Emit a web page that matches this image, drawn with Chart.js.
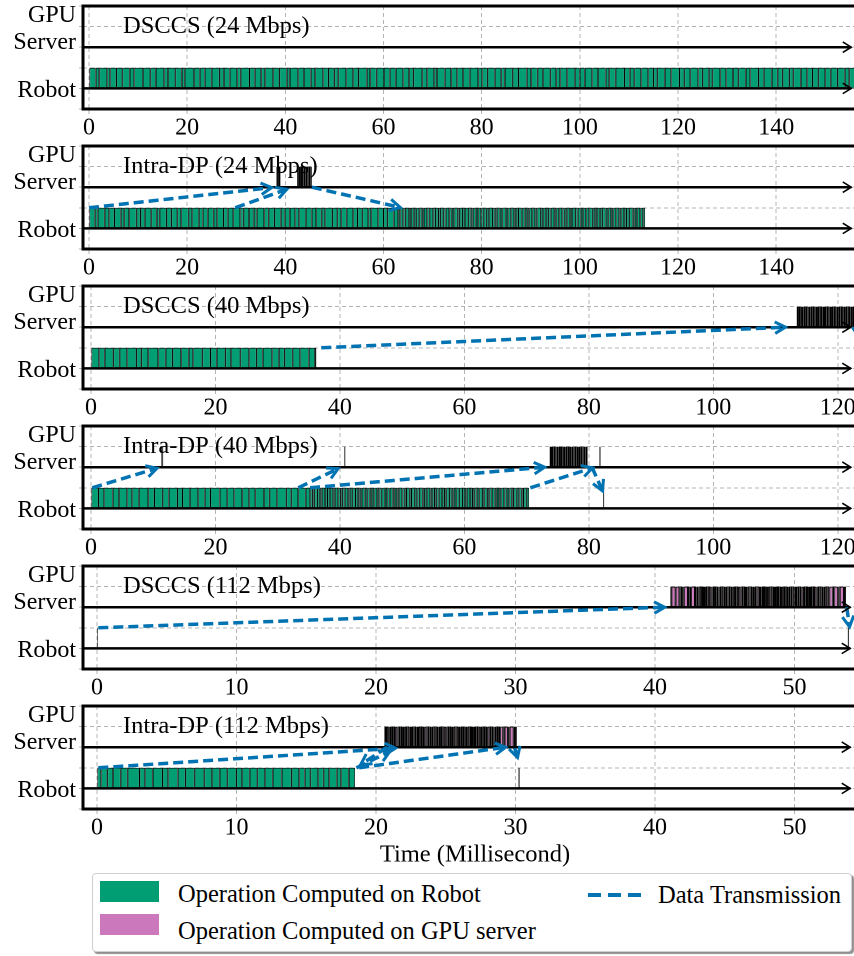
<!DOCTYPE html>
<html>
<head>
<meta charset="utf-8">
<script src="https://cdn.jsdelivr.net/npm/chart.js@4.4.1/dist/chart.umd.min.js"></script>
<style>
  html, body { margin: 0; padding: 0; background: #fff; }
  body { position: relative; width: 854px; height: 956px; overflow: hidden;
         font-family: 'Liberation Serif', 'Times New Roman', serif; }
  canvas { position: absolute; left: 0; }
  #legend { position: absolute; left: 92px; top: 873px; width: 758px; height: 77px;
            border: 1px solid #cfcfcf; border-radius: 4px; box-shadow: 2px 2px 1px #8f8f8f; background: #fff; }
  #legend span { position: absolute; font-size: 24.5px; line-height: 26px; white-space: nowrap; color: #000; }
  #legend .sw { position: absolute; left: 7px; width: 59px; height: 21px; }
  #legend .dash { position: absolute; width: 53px; height: 3.5px;
                  background: repeating-linear-gradient(to right, #0173b2 0 13px, transparent 13px 20px); }
</style>
</head>
<body>
<canvas id="p0" width="870" height="140" style="top:0px"></canvas>
<canvas id="p1" width="870" height="140" style="top:140px"></canvas>
<canvas id="p2" width="870" height="140" style="top:280px"></canvas>
<canvas id="p3" width="870" height="140" style="top:420px"></canvas>
<canvas id="p4" width="870" height="140" style="top:560px"></canvas>
<canvas id="p5" width="870" height="170" style="top:700px"></canvas>

<div id="legend">
  <i class="sw" style="top:7px;background:#029e73"></i>
  <span style="left:85px;top:7px">Operation Computed on Robot</span>
  <i class="sw" style="top:40px;background:#cc78bc"></i>
  <span style="left:85px;top:44px">Operation Computed on GPU server</span>
  <i class="dash" style="left:495px;top:19px"></i>
  <span style="left:565px;top:8px">Data Transmission</span>
</div>

<script>
const COL_ROBOT = '#029e73';
const COL_GPU   = '#cc78bc';
const COL_TX    = '#0173b2';
const GRID      = '#b4b4b4';
const CANVAS_W  = 870;

// operation runs: [start time (ms), [durations of consecutive operations (ms)]]
const dsccs24Robot = [
  [0, [1.4, 0.7, 1.6, 0.6, 1.3, 1.2, 1.5, 0.9, 1.8, 1.5,
       1.1, 1.7, 0.8, 1.5, 1.3, 0.6, 1.9, 1.2, 1.0, 1.4,
       1.6, 0.9, 1.2, 1.5, 0.7, 1.8, 1.1, 1.3, 0.8, 1.6,
       1.3, 1.5, 0.6, 1.7, 1.2, 1.4, 0.9, 1.6, 1.1, 1.2,
       0.8, 1.6, 1.4, 1.1, 1.7, 0.7, 1.3, 1.5, 1.2, 1.2,
       1.5, 1.2, 0.9, 1.8, 1.0, 1.4, 0.6, 1.6, 1.3, 1.2,
       1.2, 1.4, 1.7, 0.8, 1.1, 1.5, 1.3, 0.7, 1.6, 1.2,
       1.7, 0.9, 1.3, 1.1, 1.5, 1.2, 0.8, 1.4, 1.6, 1.0,
       1.0, 1.5, 1.2, 1.6, 0.7, 1.3, 1.8, 1.1, 0.9, 1.4,
       1.4, 1.1, 0.8, 1.5, 1.3, 1.7, 1.0, 1.2, 1.6, 0.9,
       1.3, 0.7, 1.6, 1.2, 1.4, 1.1, 1.5, 0.9, 1.7, 1.1,
       1.6, 1.2, 1.0, 1.4, 0.8, 1.5, 1.3, 1.1, 1.2, 1.4,
       1.1, 1.4, 1.5, 0.9, 1.2, 1.6, 1.0, 1.3, 0.7, 1.8]]
];

const intra24Robot = [
  [0, [1.2, 0.6, 1.4, 0.9, 1.1, 1.3, 0.7, 1.0, 1.5, 0.8,
       0.9, 1.3, 1.1, 0.6, 1.4, 1.0, 1.2, 0.8, 1.5, 0.7,
       1.4, 0.8, 1.0, 1.2, 0.7, 1.3, 0.9, 1.1, 1.4, 0.7,
       1.1, 1.0, 0.6, 1.5, 0.9, 1.2, 1.3, 0.8, 1.0, 1.1,
       0.8, 1.4, 1.2, 0.9, 1.1, 0.7, 1.5, 1.0, 0.8, 1.1,
       1.3, 0.9, 1.0, 1.2, 0.6, 1.4, 1.1, 0.8, 1.3, 0.9, 0.4,
       0.6, 0.5, 0.7, 0.4, 0.6, 0.5, 0.6, 0.5, 0.4, 0.7,
       0.5, 0.7, 0.5, 0.6, 0.4, 0.6, 0.5, 0.7, 0.5, 0.5,
       0.7, 0.4, 0.6, 0.5, 0.7, 0.5, 0.4, 0.6, 0.5, 0.6,
       0.5, 0.6, 0.5, 0.7, 0.5, 0.4, 0.6, 0.5, 0.7, 0.5,
       0.6, 0.6, 0.4, 0.5, 0.7, 0.6, 0.5, 0.4, 0.6, 0.6,
       0.4, 0.7, 0.5, 0.6, 0.5, 0.5, 0.7, 0.4, 0.6, 0.6,
       0.5, 0.5, 0.6, 0.4, 0.7, 0.5, 0.6, 0.5, 0.6, 0.6,
       0.7, 0.5, 0.4, 0.6, 0.5, 0.7, 0.5, 0.6, 0.4, 0.6,
       0.6, 0.4, 0.6, 0.5, 0.6, 0.7, 0.4, 0.5, 0.6, 0.6, 0.4]]
];
const intra24Gpu = [
  [38.2, [0.3, 0.2, 0.3]],
  [42.4, [0.3, 0.4, 0.3, 0.35, 0.3, 0.4, 0.3, 0.35, 0.3]]
];

const dsccs40Robot = [
  [0, [1.3, 0.9, 1.4, 1.0, 1.2, 1.5, 0.8, 1.1, 1.6, 1.2,
       1.1, 1.4, 1.2, 0.7, 1.5, 1.3, 1.0, 1.4, 0.9, 1.5,
       1.4, 1.2, 1.0, 1.5, 1.1, 0.9, 1.3, 1.2, 1.4, 1.0, 0.2]]
];
const dsccs40Gpu = [
  [113.4, [0.3, 0.25, 0.3, 0.28, 0.27, 0.3, 0.26, 0.29, 0.27, 0.28,
           0.28, 0.27, 0.29, 0.26, 0.3, 0.27, 0.28, 0.3, 0.25, 0.3,
           0.27, 0.3, 0.28, 0.25, 0.3, 0.29, 0.26, 0.28, 0.3, 0.27,
           0.3, 0.28, 0.26, 0.3, 0.27, 0.25, 0.3, 0.28, 0.29, 0.27, 0.3, 0.3]]
];

const intra40Robot = [
  [0, [1.2, 0.9, 1.4, 1.0, 1.3, 0.8, 1.1, 1.5, 1.0, 1.3,
       1.0, 1.4, 0.8, 1.2, 1.3, 1.1, 0.9, 1.5, 1.2, 1.1,
       1.3, 1.1, 1.0, 1.4, 0.9, 1.2, 1.5, 0.8, 1.1, 1.2, 0.7,
       0.4, 0.3, 0.5, 0.4, 0.3, 0.5, 0.4, 0.4, 0.5, 0.3,
       0.5, 0.4, 0.3, 0.4, 0.5, 0.3, 0.4, 0.5, 0.4, 0.3,
       0.3, 0.5, 0.4, 0.4, 0.3, 0.4, 0.5, 0.3, 0.4, 0.5,
       0.4, 0.4, 0.5, 0.3, 0.4, 0.3, 0.5, 0.4, 0.3, 0.5,
       0.3, 0.5, 0.4, 0.4, 0.5, 0.3, 0.4, 0.5, 0.3, 0.4,
       0.3, 0.4, 0.5, 0.4, 0.3, 0.5, 0.4, 0.3, 0.4, 0.5,
       0.5, 0.4, 0.3, 0.5, 0.4, 0.3, 0.4, 0.4, 0.5, 0.3,
       0.5, 0.3, 0.4, 0.5, 0.3, 0.4, 0.3, 0.5, 0.4, 0.4,
       0.4, 0.3, 0.5, 0.4, 0.4, 0.3, 0.5, 0.4]],
  [82.3, [0.17]]
];
const intra40Gpu = [
  [11.3, [0.15, 0.15]],
  [40.7, [0.17]],
  [73.7, [0.3, 0.28, 0.3, 0.27, 0.3, 0.29, 0.3, 0.26, 0.3, 0.3,
          0.28, 0.3, 0.3, 0.27, 0.3, 0.3, 0.29, 0.3, 0.26, 0.3, 0.3]],
  [81.7, [0.17]]
];

const dsccs112Robot = [
  [0, [0.08]],
  [53.82, [0.08]]
];
const dsccs112Gpu = [
  [41.1, [0.08, 0.3, 0.27, 0.1, 0.12, 0.1, 0.3, 0.12, 0.1, 0.28, 0.13, 0.1,
          0.12, 0.15, 0.11, 0.14, 0.13, 0.12, 0.16, 0.11, 0.13, 0.13,
          0.14, 0.11, 0.13, 0.15, 0.12, 0.13, 0.11, 0.14, 0.12, 0.15,
          0.13, 0.12, 0.16, 0.11, 0.14, 0.13, 0.12, 0.15, 0.11, 0.13,
          0.13, 0.13, 0.11, 0.16, 0.12, 0.13, 0.14, 0.11, 0.15, 0.12,
          0.15, 0.12, 0.14, 0.11, 0.13, 0.12, 0.15, 0.13, 0.11, 0.14,
          0.13, 0.11, 0.15, 0.12, 0.13, 0.14, 0.11, 0.16, 0.12, 0.13,
          0.11, 0.14, 0.12, 0.13, 0.16, 0.12, 0.13, 0.15, 0.11, 0.13, 0.15, 0.15,
          0.25, 0.1, 0.28, 0.12, 0.3, 0.15]]
];

const intra112Robot = [
  [0, [0.3, 0.45, 0.4, 0.55, 0.5, 0.85, 0.4, 0.55, 0.7, 0.4,
       0.7, 0.55, 0.65, 0.7, 0.55, 0.55, 0.55, 0.65, 0.4, 0.55,
       0.55, 0.55, 0.55, 0.65, 0.7, 0.55, 0.4, 0.4, 0.55, 0.4,
       0.4, 0.55, 0.3, 0.55, 0.45]],
  [30.22, [0.08]]
];
const intra112Gpu = [
  [20.6, [0.12, 0.15, 0.11, 0.14, 0.13, 0.12, 0.16, 0.11, 0.13, 0.13,
          0.14, 0.11, 0.13, 0.15, 0.12, 0.13, 0.11, 0.14, 0.12, 0.15,
          0.13, 0.12, 0.16, 0.11, 0.14, 0.13, 0.12, 0.15, 0.11, 0.13,
          0.13, 0.13, 0.11, 0.16, 0.12, 0.13, 0.14, 0.11, 0.15, 0.12,
          0.15, 0.12, 0.14, 0.11, 0.13, 0.12, 0.15, 0.13, 0.11, 0.14,
          0.13, 0.11, 0.15, 0.12, 0.13, 0.14, 0.11, 0.16, 0.12, 0.13,
          0.12, 0.13, 0.14, 0.11,
          0.22, 0.1, 0.25, 0.12, 0.28, 0.1, 0.13]]
];

// data transmissions: [from time, from lane, to time, to lane]
const intra24Tx   = [[0, 1, 37.2, 1.98], [29.8, 1, 40.3, 1.9], [45.4, 2, 63.4, 1.02]];
const dsccs40Tx   = [[37.0, 1, 111.6, 2.0], [122.4, 2, 124.6, 1.0]];
const intra40Tx   = [[0.2, 1, 10.6, 1.95], [33.3, 1, 39.7, 1.93], [35.2, 1, 72.9, 2.0],
                     [70.6, 1, 80.6, 1.97], [80.5, 2, 82.2, 0.85]];
const dsccs112Tx  = [[0.1, 1, 40.7, 2.0], [53.75, 2, 53.95, 1.05]];
const intra112Tx  = [[0.1, 1, 21.4, 1.95], [18.6, 1, 21.0, 1.8], [20.8, 2, 18.9, 1.15],
                     [18.8, 1, 29.3, 2.0], [29.95, 1.95, 30.15, 1.5]];

// axis ticks
const ticks24  = [0, 20, 40, 60, 80, 100, 120, 140];
const ticks40  = [0, 20, 40, 60, 80, 100, 120];
const ticks112 = [0, 10, 20, 30, 40, 50];
const laneTicks = [-1, 0, 1, 2, 3, 4];
const yLabels = { 0: 'Robot', 3: ['GPU', 'Server'] };
const ROBOT_ROW = 0.5, GPU_ROW = 2.5;

const panels = [
  { title: 'DSCCS (24 Mbps)',     robot: dsccs24Robot,  gpu: [],          tx: [],         range: [-1.22, 158.5], ticks: ticks24,  end: 155.3 },
  { title: 'Intra-DP (24 Mbps)',  robot: intra24Robot,  gpu: intra24Gpu,  tx: intra24Tx,  range: [-1.22, 158.5], ticks: ticks24,  end: 155.3 },
  { title: 'DSCCS (40 Mbps)',     robot: dsccs40Robot,  gpu: dsccs40Gpu,  tx: dsccs40Tx,  range: [-1.29, 124.7], ticks: ticks40,  end: 122.1 },
  { title: 'Intra-DP (40 Mbps)',  robot: intra40Robot,  gpu: intra40Gpu,  tx: intra40Tx,  range: [-1.29, 124.7], ticks: ticks40,  end: 122.1 },
  { title: 'DSCCS (112 Mbps)',    robot: dsccs112Robot, gpu: dsccs112Gpu, tx: dsccs112Tx, range: [-1.0, 55.2],   ticks: ticks112, end: 54.0 },
  { title: 'Intra-DP (112 Mbps)', robot: intra112Robot, gpu: intra112Gpu, tx: intra112Tx, range: [-1.0, 55.2],   ticks: ticks112, end: 54.0 },
];

Chart.defaults.font.family = "'Liberation Serif', 'Times New Roman', serif";
Chart.defaults.font.size   = 24;
Chart.defaults.color       = '#000';

function toBars(runs, row) {
  const out = [];
  runs.forEach(([t0, durs]) => {
    let t = t0;
    durs.forEach(d => { out.push({ x: [t, t + d], y: row }); t += d; });
  });
  return out;
}

// open arrow heads at the end of transfer lines and lane axes
const arrowHeads = {
  id: 'arrowHeads',
  afterDatasetsDraw(chart) {
    const { ctx, chartArea: a } = chart;
    ctx.save();
    ctx.beginPath();
    ctx.rect(a.left, a.top, a.right - a.left, a.bottom - a.top);
    ctx.clip();
    chart.data.datasets.forEach((ds, i) => {
      if (!ds.head) return;
      const [p, q] = chart.getDatasetMeta(i).data;
      const ang = Math.atan2(q.y - p.y, q.x - p.x);
      const len = ds.head === 'tx' ? 12 : 10;
      const spread = ds.head === 'tx' ? 0.5 : 0.55;
      ctx.setLineDash([]);
      ctx.strokeStyle = ds.borderColor;
      ctx.lineWidth = ds.head === 'tx' ? 3 : 1.6;
      ctx.beginPath();
      ctx.moveTo(q.x - len * Math.cos(ang - spread), q.y - len * Math.sin(ang - spread));
      ctx.lineTo(q.x, q.y);
      ctx.lineTo(q.x - len * Math.cos(ang + spread), q.y - len * Math.sin(ang + spread));
      ctx.stroke();
    });
    ctx.restore();
  }
};

// heavy frame round the plot area plus the in-plot panel title
const frame = {
  id: 'frame',
  afterDraw(chart, args, opts) {
    const { ctx, chartArea: a } = chart;
    ctx.save();
    ctx.lineWidth = 3;
    ctx.strokeStyle = '#000';
    ctx.strokeRect(a.left, a.top, a.right - a.left, a.bottom - a.top);
    ctx.font = "24.5px 'Liberation Serif', serif";
    ctx.fillStyle = '#000';
    ctx.textBaseline = 'alphabetic';
    ctx.fillText(opts.text, a.left + 40, a.top + 27);
    ctx.restore();
  }
};

const barStyle = {
  type: 'bar', indexAxis: 'y', order: 2, borderColor: '#000', borderSkipped: false,
  inflateAmount: 0, grouped: false, barPercentage: 1, categoryPercentage: 1,
};

panels.forEach((p, i) => {
  const last = i === panels.length - 1;
  const [lo, hi] = p.range;
  const canvas = document.getElementById('p' + i);
  const canvasH = canvas.height;

  const datasets = [
    ...p.tx.map(([x0, y0, x1, y1]) => ({
      type: 'line', indexAxis: 'x', head: 'tx', order: 0,
      data: [{ x: x0, y: y0 }, { x: x1, y: y1 }],
      borderColor: COL_TX, borderWidth: 3.5, borderDash: [10, 5], pointRadius: 0,
    })),
    ...[0, 2].map(lane => ({
      type: 'line', indexAxis: 'x', head: 'axis', order: 1,
      data: [{ x: lo, y: lane }, { x: p.end, y: lane }],
      borderColor: '#000', borderWidth: 2.5, pointRadius: 0,
    })),
    { ...barStyle, label: 'Operation Computed on Robot', data: toBars(p.robot, ROBOT_ROW),
      backgroundColor: COL_ROBOT, borderWidth: 0.75 },
    { ...barStyle, label: 'Operation Computed on GPU server', data: toBars(p.gpu, GPU_ROW),
      backgroundColor: COL_GPU, borderWidth: 1 },
  ];

  new Chart(canvas, {
    type: 'bar',
    data: { datasets },
    plugins: [arrowHeads, frame],
    options: {
      indexAxis: 'y',
      responsive: false,
      devicePixelRatio: 2,
      animation: false,
      events: [],
      layout: { padding: { top: 6, right: 3, left: 0, bottom: 0 } },
      plugins: {
        legend: { display: false },
        tooltip: { enabled: false },
        frame: { text: p.title },
      },
      scales: {
        x: {
          type: 'linear', min: lo, max: hi, offset: false, beginAtZero: false, grace: 0,
          afterBuildTicks: s => { s.ticks = p.ticks.map(value => ({ value })); },
          ticks: { source: 'data', autoSkip: false, maxRotation: 0, padding: 0, color: '#000' },
          grid: { offset: false, color: GRID, tickColor: GRID, tickLength: 5 },
          border: { display: false, dash: [4, 3] },
          title: { display: last, text: 'Time (Millisecond)', padding: 0, color: '#000', font: { size: 24.5 } },
          afterFit: s => { s.height = canvasH - 109; s.paddingLeft = 0; s.paddingRight = 0; },
        },
        y: {
          type: 'linear', min: -1, max: 4, offset: false, beginAtZero: false, grace: 0,
          afterBuildTicks: s => { s.ticks = laneTicks.map(value => ({ value })); },
          ticks: {
            source: 'data', autoSkip: false, labelOffset: 2.5, padding: 3, color: '#000',
            font: { size: 24, lineHeight: 1.12 },
            callback: v => yLabels[v] ?? '',
          },
          grid: { offset: false, color: GRID, tickColor: GRID, tickLength: 4 },
          border: { display: false, dash: [4, 3] },
          afterFit: s => { s.width = 83; s.paddingTop = 0; s.paddingBottom = 0; },
        },
      },
    },
  });
  canvas.style.width = CANVAS_W + 'px';
  canvas.style.height = canvasH + 'px';
});
</script>
</body>
</html>
